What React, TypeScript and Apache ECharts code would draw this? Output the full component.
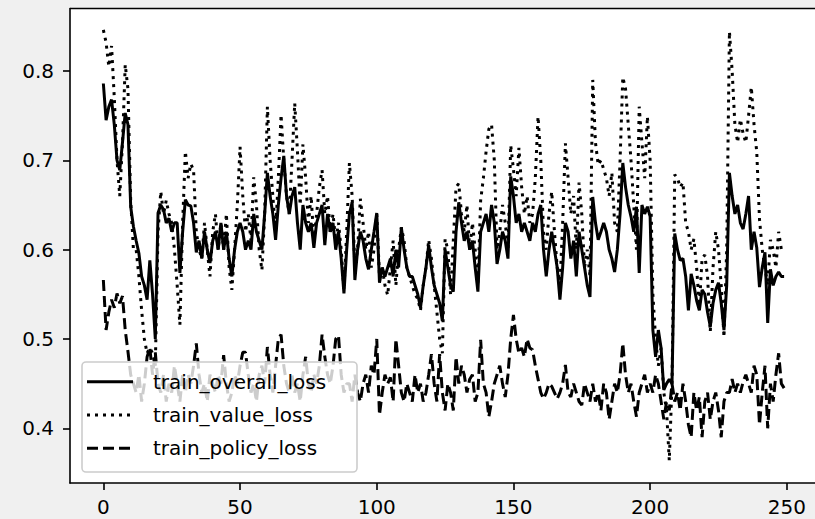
import React, { useEffect, useRef } from "react";
import * as echarts from "echarts";

const xTicks = [0, 50, 100, 150, 200, 250];
const yTicks = [0.4, 0.5, 0.6, 0.7, 0.8];
const seriesNames = ["train_overall_loss", "train_value_loss", "train_policy_loss"];

const overallLoss = [
  0.786, 0.745, 0.76, 0.768, 0.74, 0.70, 0.689, 0.72, 0.753, 0.74,
  0.648, 0.626, 0.61, 0.596, 0.57, 0.56, 0.544, 0.588, 0.55, 0.50,
  0.641, 0.65, 0.645, 0.63, 0.635, 0.62, 0.63, 0.63, 0.574, 0.62,
  0.656, 0.65, 0.649, 0.63, 0.597, 0.61, 0.59, 0.62, 0.60, 0.585,
  0.61, 0.62, 0.60, 0.63, 0.60, 0.62, 0.59, 0.57, 0.60, 0.62,
  0.63, 0.62, 0.60, 0.61, 0.60, 0.64, 0.62, 0.61, 0.60, 0.64,
  0.686, 0.66, 0.64, 0.611, 0.65, 0.68, 0.705, 0.66, 0.64, 0.66,
  0.67, 0.63, 0.60, 0.65, 0.63, 0.62, 0.63, 0.602, 0.63, 0.64,
  0.65, 0.605, 0.64, 0.62, 0.63, 0.60, 0.62, 0.59, 0.551, 0.60,
  0.64, 0.653, 0.566, 0.60, 0.62, 0.61, 0.59, 0.578, 0.60, 0.62,
  0.641, 0.563, 0.58, 0.57, 0.58, 0.59, 0.57, 0.60, 0.58, 0.625,
  0.60, 0.58, 0.57, 0.57, 0.56, 0.55, 0.535, 0.56, 0.58, 0.605,
  0.58, 0.56, 0.55, 0.54, 0.52, 0.60, 0.58, 0.56, 0.553, 0.62,
  0.653, 0.63, 0.61, 0.62, 0.60, 0.61, 0.58, 0.553, 0.62, 0.63,
  0.64, 0.62, 0.65, 0.63, 0.584, 0.60, 0.62, 0.61, 0.59, 0.682,
  0.66, 0.63, 0.64, 0.62, 0.63, 0.62, 0.61, 0.63, 0.62, 0.64,
  0.65, 0.60, 0.57, 0.60, 0.62, 0.60, 0.58, 0.544, 0.58, 0.63,
  0.62, 0.59, 0.61, 0.57, 0.62, 0.60, 0.58, 0.56, 0.547, 0.659,
  0.63, 0.611, 0.62, 0.63, 0.62, 0.60, 0.59, 0.575, 0.60, 0.64,
  0.697, 0.67, 0.65, 0.637, 0.62, 0.648, 0.574, 0.65, 0.64, 0.648,
  0.637, 0.51, 0.48, 0.51, 0.49, 0.443, 0.45, 0.455, 0.45, 0.618,
  0.60, 0.588, 0.59, 0.57, 0.532, 0.573, 0.56, 0.543, 0.532, 0.555,
  0.55, 0.53, 0.514, 0.54, 0.555, 0.563, 0.54, 0.51, 0.56, 0.686,
  0.66, 0.64, 0.65, 0.63, 0.623, 0.64, 0.66, 0.60, 0.62, 0.602,
  0.558, 0.58, 0.597, 0.518, 0.578, 0.56, 0.57, 0.575, 0.57, 0.57,
];

const valueLoss = [
  0.846, 0.832, 0.805, 0.828, 0.77, 0.70, 0.66, 0.72, 0.807, 0.78,
  0.655, 0.60, 0.60, 0.57, 0.532, 0.50, 0.484, 0.49, 0.484, 0.47,
  0.62, 0.665, 0.64, 0.655, 0.64, 0.63, 0.60, 0.56, 0.516, 0.63,
  0.71, 0.68, 0.696, 0.689, 0.62, 0.60, 0.59, 0.63, 0.60, 0.57,
  0.62, 0.64, 0.60, 0.63, 0.60, 0.64, 0.58, 0.555, 0.60, 0.65,
  0.715, 0.66, 0.62, 0.64, 0.61, 0.681, 0.65, 0.60, 0.577, 0.64,
  0.76, 0.70, 0.66, 0.62, 0.68, 0.751, 0.70, 0.66, 0.64, 0.70,
  0.764, 0.71, 0.65, 0.718, 0.68, 0.63, 0.66, 0.61, 0.64, 0.67,
  0.689, 0.64, 0.66, 0.62, 0.64, 0.61, 0.63, 0.60, 0.555, 0.62,
  0.697, 0.66, 0.58, 0.60, 0.657, 0.63, 0.60, 0.62, 0.58, 0.60,
  0.64, 0.57, 0.58, 0.56, 0.549, 0.58, 0.61, 0.56, 0.60, 0.625,
  0.61, 0.58, 0.57, 0.56, 0.55, 0.545, 0.532, 0.56, 0.58, 0.611,
  0.59, 0.56, 0.53, 0.50, 0.484, 0.612, 0.60, 0.55, 0.61, 0.67,
  0.674, 0.64, 0.62, 0.65, 0.60, 0.63, 0.60, 0.56, 0.655, 0.68,
  0.71, 0.735, 0.74, 0.70, 0.60, 0.62, 0.65, 0.63, 0.60, 0.717,
  0.69, 0.66, 0.714, 0.67, 0.64, 0.66, 0.63, 0.64, 0.68, 0.749,
  0.70, 0.62, 0.60, 0.64, 0.665, 0.62, 0.58, 0.56, 0.63, 0.719,
  0.68, 0.64, 0.66, 0.60, 0.675, 0.64, 0.58, 0.60, 0.57, 0.79,
  0.72, 0.695, 0.70, 0.69, 0.68, 0.66, 0.686, 0.63, 0.62, 0.70,
  0.793, 0.78, 0.74, 0.70, 0.65, 0.60, 0.76, 0.72, 0.68, 0.749,
  0.70, 0.55, 0.50, 0.47, 0.49, 0.44, 0.42, 0.364, 0.45, 0.684,
  0.68, 0.67, 0.675, 0.63, 0.62, 0.60, 0.612, 0.58, 0.537, 0.59,
  0.594, 0.57, 0.508, 0.58, 0.62, 0.60, 0.56, 0.502, 0.60, 0.844,
  0.80, 0.74, 0.72, 0.746, 0.73, 0.72, 0.75, 0.782, 0.74, 0.709,
  0.634, 0.60, 0.58, 0.56, 0.611, 0.60, 0.58, 0.62, 0.60, 0.60,
];

const policyLoss = [
  0.566, 0.51, 0.53, 0.544, 0.535, 0.551, 0.54, 0.548, 0.51, 0.486,
  0.46, 0.45, 0.44, 0.46, 0.43, 0.45, 0.48, 0.49, 0.46, 0.485,
  0.45, 0.44, 0.46, 0.43, 0.45, 0.44, 0.47, 0.45, 0.43, 0.46,
  0.44, 0.46, 0.45, 0.47, 0.495, 0.46, 0.44, 0.45, 0.43, 0.46,
  0.45, 0.44, 0.46, 0.45, 0.482, 0.45, 0.43, 0.44, 0.46, 0.45,
  0.47, 0.485, 0.485, 0.46, 0.44, 0.45, 0.43, 0.46, 0.47, 0.45,
  0.491, 0.46, 0.44, 0.47, 0.50, 0.505, 0.47, 0.45, 0.44, 0.46,
  0.44, 0.45, 0.43, 0.46, 0.48, 0.45, 0.44, 0.46, 0.45, 0.47,
  0.505, 0.48, 0.46, 0.45, 0.47, 0.50, 0.504, 0.46, 0.44, 0.45,
  0.45, 0.43, 0.46, 0.44, 0.43, 0.45, 0.46, 0.44, 0.47, 0.46,
  0.50, 0.415, 0.44, 0.46, 0.45, 0.457, 0.43, 0.50, 0.47, 0.44,
  0.43, 0.45, 0.44, 0.43, 0.46, 0.44, 0.45, 0.43, 0.44, 0.46,
  0.483, 0.45, 0.43, 0.483, 0.44, 0.42, 0.45, 0.44, 0.42, 0.48,
  0.45, 0.47, 0.46, 0.44, 0.455, 0.46, 0.43, 0.44, 0.499, 0.45,
  0.44, 0.413, 0.43, 0.45, 0.46, 0.47, 0.45, 0.435, 0.46, 0.50,
  0.527, 0.50, 0.484, 0.49, 0.48, 0.50, 0.49, 0.488, 0.47, 0.455,
  0.44, 0.433, 0.44, 0.45, 0.447, 0.44, 0.433, 0.44, 0.45, 0.471,
  0.44, 0.435, 0.45, 0.44, 0.43, 0.426, 0.45, 0.44, 0.43, 0.45,
  0.43, 0.44, 0.42, 0.45, 0.44, 0.41, 0.43, 0.45, 0.44, 0.46,
  0.495, 0.46, 0.44, 0.45, 0.43, 0.413, 0.44, 0.45, 0.46, 0.44,
  0.45, 0.44, 0.46, 0.45, 0.43, 0.41, 0.43, 0.42, 0.45, 0.43,
  0.44, 0.42, 0.45, 0.43, 0.404, 0.39, 0.44, 0.42, 0.435, 0.39,
  0.43, 0.44, 0.41, 0.43, 0.44, 0.42, 0.39, 0.43, 0.44, 0.44,
  0.455, 0.44, 0.45, 0.44, 0.452, 0.46, 0.45, 0.44, 0.47, 0.46,
  0.404, 0.44, 0.47, 0.40, 0.45, 0.43, 0.46, 0.484, 0.45, 0.445,
];

const FONT = "DejaVu Sans";
const SPINE = { color: "#000", width: 1.6 };

const App: React.FC = () => {
  const ref = useRef<HTMLDivElement>(null);

  useEffect(() => {
    if (!ref.current) return;
    const chart = echarts.init(ref.current, undefined, { renderer: "svg" });
    const toPairs = (arr: number[]) => arr.map((v, i) => [i, v]);
    const lineDashes: any[] = ["solid", [3, 5], [11, 5]];
    const allData = [overallLoss, valueLoss, policyLoss];

    const legendRows = [381.7, 415, 448.3];
    const graphics: any[] = [
      {
        type: "line",
        z: 100,
        shape: { x1: 70, y1: 8.5, x2: 815, y2: 8.5 },
        style: { stroke: "#000", lineWidth: 1.6 },
      },
      {
        type: "rect",
        z: 100,
        shape: { x: 82, y: 362, width: 275, height: 110, r: 4 },
        style: { fill: "rgba(255,255,255,0.8)", stroke: "#cccccc", lineWidth: 1.6 },
      },
    ];
    seriesNames.forEach((name, k) => {
      graphics.push({
        type: "line",
        z: 101,
        shape: { x1: 87, y1: legendRows[k], x2: 133, y2: legendRows[k] },
        style: {
          stroke: "#000",
          lineWidth: 3,
          lineDash: k === 0 ? null : lineDashes[k],
          lineCap: "butt",
        },
      });
      graphics.push({
        type: "text",
        z: 101,
        x: 153,
        y: legendRows[k],
        style: {
          text: name,
          fill: "#000",
          fontFamily: FONT,
          fontSize: 20,
          verticalAlign: "middle",
        },
      });
    });

    chart.setOption({
      animation: false,
      backgroundColor: "#f0f0f0",
      grid: {
        left: 70,
        top: 8.5,
        right: 0,
        height: 474.5,
        show: true,
        outerBoundsMode: "none",
        backgroundColor: "#ffffff",
        borderWidth: 0,
      },
      xAxis: {
        type: "value",
        min: -12.2,
        max: 260.3,
        splitLine: { show: false },
        axisLine: { show: true, onZero: false, lineStyle: SPINE },
        axisTick: {
          show: true,
          length: 7,
          customValues: xTicks,
          lineStyle: SPINE,
        },
        axisLabel: {
          customValues: xTicks,
          margin: 14,
          color: "#000",
          fontFamily: FONT,
          fontSize: 20,
          formatter: (v: number) => String(Math.round(v)),
        },
      },
      yAxis: {
        type: "value",
        min: 0.33876,
        max: 0.86997,
        splitLine: { show: false },
        axisLine: { show: true, onZero: false, lineStyle: SPINE },
        axisTick: {
          show: true,
          length: 7,
          customValues: yTicks,
          lineStyle: SPINE,
        },
        axisLabel: {
          customValues: yTicks,
          margin: 16,
          color: "#000",
          fontFamily: FONT,
          fontSize: 20,
          formatter: (v: number) => v.toFixed(1),
        },
      },
      series: seriesNames.map((name, k) => ({
        name,
        type: "line",
        data: toPairs(allData[k]),
        showSymbol: false,
        symbol: "none",
        smooth: false,
        lineStyle: { color: "#000", width: 3, type: lineDashes[k], cap: "butt" },
        emphasis: { disabled: true },
      })),
      graphic: graphics,
    });

    return () => chart.dispose();
  }, []);

  return (
    <div
      ref={ref}
      style={{ position: "fixed", left: 0, top: 0, width: 815, height: 519 }}
    />
  );
};

export default App;
